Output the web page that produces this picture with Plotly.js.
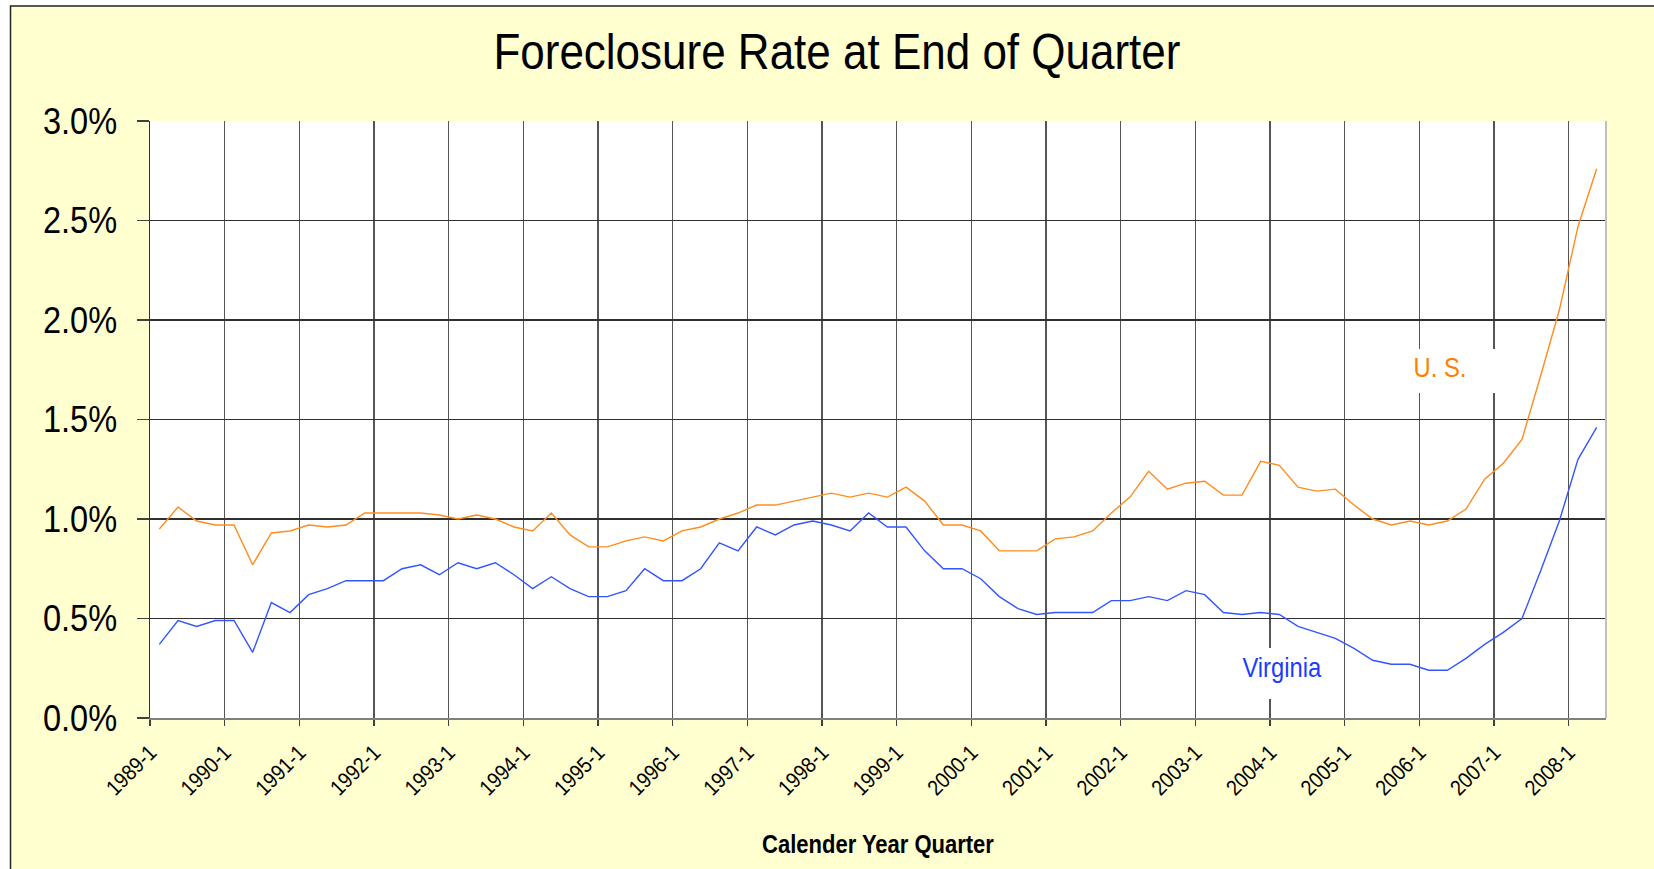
<!DOCTYPE html>
<html>
<head>
<meta charset="utf-8">
<script src="https://cdn.plot.ly/plotly-3.0.1.min.js"></script>
<style>
  html, body { margin: 0; padding: 0; background: #ffffff; }
  #chart { width: 1654px; height: 869px; }
</style>
</head>
<body>
<div id="chart"></div>
<script>
// Quarter categories 1989-1 ... 2008-2
const categories = [];
for (let y = 1989; y <= 2008; y++) {
  for (let q = 1; q <= 4; q++) {
    if (y === 2008 && q > 2) break;
    categories.push(y + "-" + q);
  }
}

// Foreclosure rate (%) at end of quarter
const usRate = [
  0.95, 1.06, 0.99, 0.97, 0.97, 0.77, 0.93, 0.94,
  0.97, 0.96, 0.97, 1.03, 1.03, 1.03, 1.03, 1.02,
  1.00, 1.02, 1.00, 0.96, 0.94, 1.03, 0.92, 0.86,
  0.86, 0.89, 0.91, 0.89, 0.94, 0.96, 1.00, 1.03,
  1.07, 1.07, 1.09, 1.11, 1.13, 1.11, 1.13, 1.11,
  1.16, 1.09, 0.97, 0.97, 0.94, 0.84, 0.84, 0.84,
  0.90, 0.91, 0.94, 1.03, 1.11, 1.24, 1.15, 1.18,
  1.19, 1.12, 1.12, 1.29, 1.27, 1.16, 1.14, 1.15,
  1.07, 1.00, 0.97, 0.99, 0.97, 0.99, 1.05, 1.20,
  1.28, 1.40, 1.72, 2.05, 2.47, 2.76
];
const vaRate = [
  0.37, 0.49, 0.46, 0.49, 0.49, 0.33, 0.58, 0.53,
  0.62, 0.65, 0.69, 0.69, 0.69, 0.75, 0.77, 0.72,
  0.78, 0.75, 0.78, 0.72, 0.65, 0.71, 0.65, 0.61,
  0.61, 0.64, 0.75, 0.69, 0.69, 0.75, 0.88, 0.84,
  0.96, 0.92, 0.97, 0.99, 0.97, 0.94, 1.03, 0.96,
  0.96, 0.84, 0.75, 0.75, 0.70, 0.61, 0.55, 0.52,
  0.53, 0.53, 0.53, 0.59, 0.59, 0.61, 0.59, 0.64,
  0.62, 0.53, 0.52, 0.53, 0.52, 0.46, 0.43, 0.40,
  0.35, 0.29, 0.27, 0.27, 0.24, 0.24, 0.30, 0.37,
  0.43, 0.50, 0.74, 0.99, 1.30, 1.46
];
// Year tick labels (first quarter of each year)
const tickLabels = [
  "1989-1","1990-1","1991-1","1992-1","1993-1","1994-1","1995-1",
  "1996-1","1997-1","1998-1","1999-1","2000-1","2001-1","2002-1",
  "2003-1","2004-1","2005-1","2006-1","2007-1","2008-1"
];
const yTicks = [0, 0.5, 1.0, 1.5, 2.0, 2.5, 3.0];
const yTickText = ["0.0%", "0.5%", "1.0%", "1.5%", "2.0%", "2.5%", "3.0%"];

// category index -> centred position on the numeric axis; ticks/grid at category boundaries
const xPos = categories.map((c, i) => i + 0.5);
const tickPos = tickLabels.map(t => categories.indexOf(t));

const FONT = '"Liberation Sans", Arial, sans-serif';
const SQUEEZE = 0.88;   // narrow (condensed) look of the original typeface

const traces = [
  { x: xPos, y: usRate, name: "U. S.", type: "scatter", mode: "lines",
    line: { color: "#ff8c1e", width: 1.4 }, text: categories },
  { x: xPos, y: vaRate, name: "Virginia", type: "scatter", mode: "lines",
    line: { color: "#3355ff", width: 1.4 }, text: categories }
];

const layout = {
  width: 1654, height: 869,
  paper_bgcolor: "#ffffd0",
  plot_bgcolor: "#ffffff",
  showlegend: false,
  margin: { l: 150, r: 48, t: 121, b: 151, pad: 0 },
  font: { family: FONT, color: "#000000" },
  title: {
    text: "Foreclosure Rate at End of Quarter",
    font: { family: FONT, size: 50, color: "#000000" },
    x: 0.506, xanchor: "center", y: 0.9405, yanchor: "middle"
  },
  xaxis: {
    type: "linear", range: [0, categories.length],
    tickmode: "array", tickvals: tickPos, ticktext: tickLabels,
    tickangle: -45, tickfont: { family: FONT, size: 22, color: "#000000" },
    ticks: "outside", ticklen: 6, tickcolor: "#404040", tickwidth: 1.3,
    ticklabelstandoff: 5,
    showgrid: true, gridcolor: "#555555", gridwidth: 1.5,
    showline: true, linecolor: "#808080", linewidth: 2,
    zeroline: false, fixedrange: true, automargin: false,
    title: { text: "<b>Calender Year Quarter</b>", font: { family: FONT, size: 25, color: "#000000" }, standoff: 30 }
  },
  yaxis: {
    range: [0, 3.0], tickmode: "array", tickvals: yTicks, ticktext: yTickText,
    tickfont: { family: FONT, size: 37, color: "#000000" },
    ticks: "outside", ticklen: 12, tickcolor: "#404040", tickwidth: 1.3,
    ticklabelstandoff: 12,
    showgrid: true, gridcolor: "#303030", gridwidth: 1.3,
    showline: true, linecolor: "#303030", linewidth: 1.5,
    zeroline: false, fixedrange: true, automargin: false
  },
  shapes: [
    // white boxes behind the series labels (hide gridlines, drawn beneath the lines)
    { type: "rect", xref: "x", yref: "y", x0: 67.3, x1: 72.3, y0: 1.633, y1: 1.854,
      fillcolor: "#ffffff", line: { width: 0 }, layer: "between" },
    { type: "rect", xref: "x", yref: "y", x0: 57.96, x1: 63.37, y0: 0.095, y1: 0.352,
      fillcolor: "#ffffff", line: { width: 0 }, layer: "between" },
    // white strips outside the chart frame
    { type: "rect", xref: "paper", yref: "paper", x0: -0.2, x1: -0.0958, y0: -0.3, y1: 1.3,
      fillcolor: "#ffffff", line: { width: 0 }, layer: "above" },
    { type: "rect", xref: "paper", yref: "paper", x0: -0.2, x1: 1.1, y0: 1.1926, y1: 1.3,
      fillcolor: "#ffffff", line: { width: 0 }, layer: "above" },
    // chart frame
    { type: "rect", xref: "paper", yref: "paper", x0: -0.0958, x1: 1.2, y0: -0.4, y1: 1.1926,
      fillcolor: "rgba(0,0,0,0)", line: { color: "#222222", width: 1.5 }, layer: "above" },
    // right border of plot area
    { type: "line", xref: "paper", yref: "paper", x0: 1, x1: 1, y0: 0, y1: 1,
      line: { color: "#c0c0c0", width: 2 }, layer: "above" }
  ],
  annotations: [
    { x: 69.13, y: 1.76, xref: "x", yref: "y", text: "U. S.", showarrow: false,
      font: { family: FONT, size: 27, color: "#ff7f00" },
      xanchor: "center", yanchor: "middle" },
    { x: 60.65, y: 0.25, xref: "x", yref: "y", text: "Virginia", showarrow: false,
      font: { family: FONT, size: 27, color: "#1a3cff" },
      xanchor: "center", yanchor: "middle" }
  ]
};

function squeezeText(gd) {
  gd.querySelectorAll("svg text").forEach(el => {
    if (el.getAttribute("data-sq")) return;
    const x = parseFloat(el.getAttribute("x")) || 0;
    const y = parseFloat(el.getAttribute("y")) || 0;
    const tr = el.getAttribute("transform") || "";
    el.setAttribute("transform",
      (tr + " translate(" + x + "," + y + ") scale(" + SQUEEZE + ",1) translate(" + (-x) + "," + (-y) + ")").trim());
    el.setAttribute("data-sq", "1");
  });
}

const gd = document.getElementById("chart");
Plotly.newPlot(gd, traces, layout, { displayModeBar: false, staticPlot: true })
  .then(() => squeezeText(gd));
</script>
</body>
</html>
